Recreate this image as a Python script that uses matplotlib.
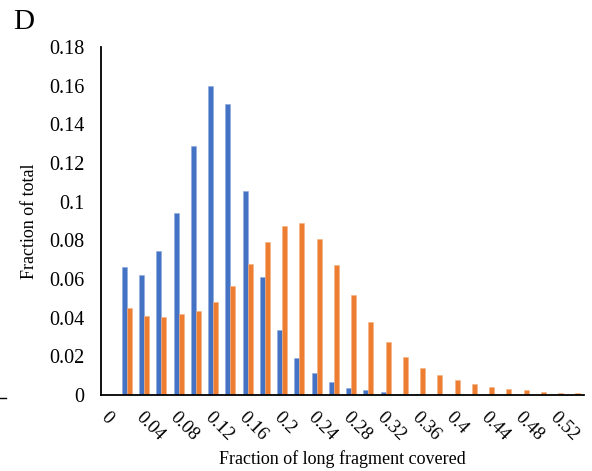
import matplotlib
matplotlib.use("Agg")
import matplotlib.pyplot as plt
import numpy as np

plt.rcParams['font.family'] = ['Liberation Serif', 'DejaVu Serif']

categories = [f"{v:g}" for v in [0, 0.02, 0.04, 0.06, 0.08, 0.1, 0.12, 0.14, 0.16, 0.18, 0.2,
                                  0.22, 0.24, 0.26, 0.28, 0.3, 0.32, 0.34, 0.36, 0.38, 0.4,
                                  0.42, 0.44, 0.46, 0.48, 0.5, 0.52, 0.54]]
blue_values = [0, 0.066, 0.062, 0.0745, 0.094, 0.129, 0.160, 0.1505, 0.1055, 0.061, 0.0336,
               0.0191, 0.0112, 0.0067, 0.0038, 0.0026, 0.0016, 0.0005, 0.0003, 0, 0,
               0, 0, 0, 0, 0, 0, 0]
orange_values = [0, 0.0448, 0.041, 0.0405, 0.0417, 0.0436, 0.0482, 0.0565, 0.068, 0.0793, 0.0876,
                 0.089, 0.0805, 0.0673, 0.0517, 0.0376, 0.0275, 0.0196, 0.014, 0.0103, 0.0078,
                 0.0057, 0.0043, 0.0031, 0.0024, 0.0016, 0.0010, 0.0009]
ytick_values = [0, 0.02, 0.04, 0.06, 0.08, 0.1, 0.12, 0.14, 0.16, 0.18]
ytick_labels = ["0", "0.02", "0.04", "0.06", "0.08", "0.1", "0.12", "0.14", "0.16", "0.18"]

fig = plt.figure(figsize=(5.92, 4.71), dpi=100)
ax = fig.add_axes([101/592, 1-395/471, (584-101)/592, (395-47)/471])

x = np.arange(len(categories))
w = 0.29
ax.bar(x - w/2, blue_values, width=w, color='#4472C4', edgecolor='#8FAADC', linewidth=0.4)
ax.bar(x + w/2, orange_values, width=w, color='#ED7D31', edgecolor='#F4B183', linewidth=0.4)

ax.set_xlim(-0.5, len(categories) - 0.5)
ax.set_ylim(0, 0.18)
ax.set_yticks(ytick_values)
ax.set_yticklabels(ytick_labels, fontsize=14.5)
ax.set_xticks(x[::2])
ax.set_xticklabels(categories[::2], fontsize=13.5, rotation=-45, ha='left', va='top',
                   rotation_mode='anchor')
ax.tick_params(axis='both', length=0)
ax.tick_params(axis='x', pad=10)
ax.tick_params(axis='y', pad=12)
for s in ['top', 'right']:
    ax.spines[s].set_visible(False)
ax.spines['left'].set_linewidth(1.3)
ax.spines['bottom'].set_linewidth(1.3)

ax.set_ylabel("Fraction of total", fontsize=13, labelpad=8)
ax.set_xlabel("Fraction of long fragment covered", fontsize=13, labelpad=4)

fig.text(13/592, 1-22/471, "D", fontsize=21, va='center', ha='left')
fig.add_artist(plt.Line2D([0, 6/592], [1-398/471, 1-398/471], color='black', lw=1))

fig.savefig("out.png", dpi=100)
